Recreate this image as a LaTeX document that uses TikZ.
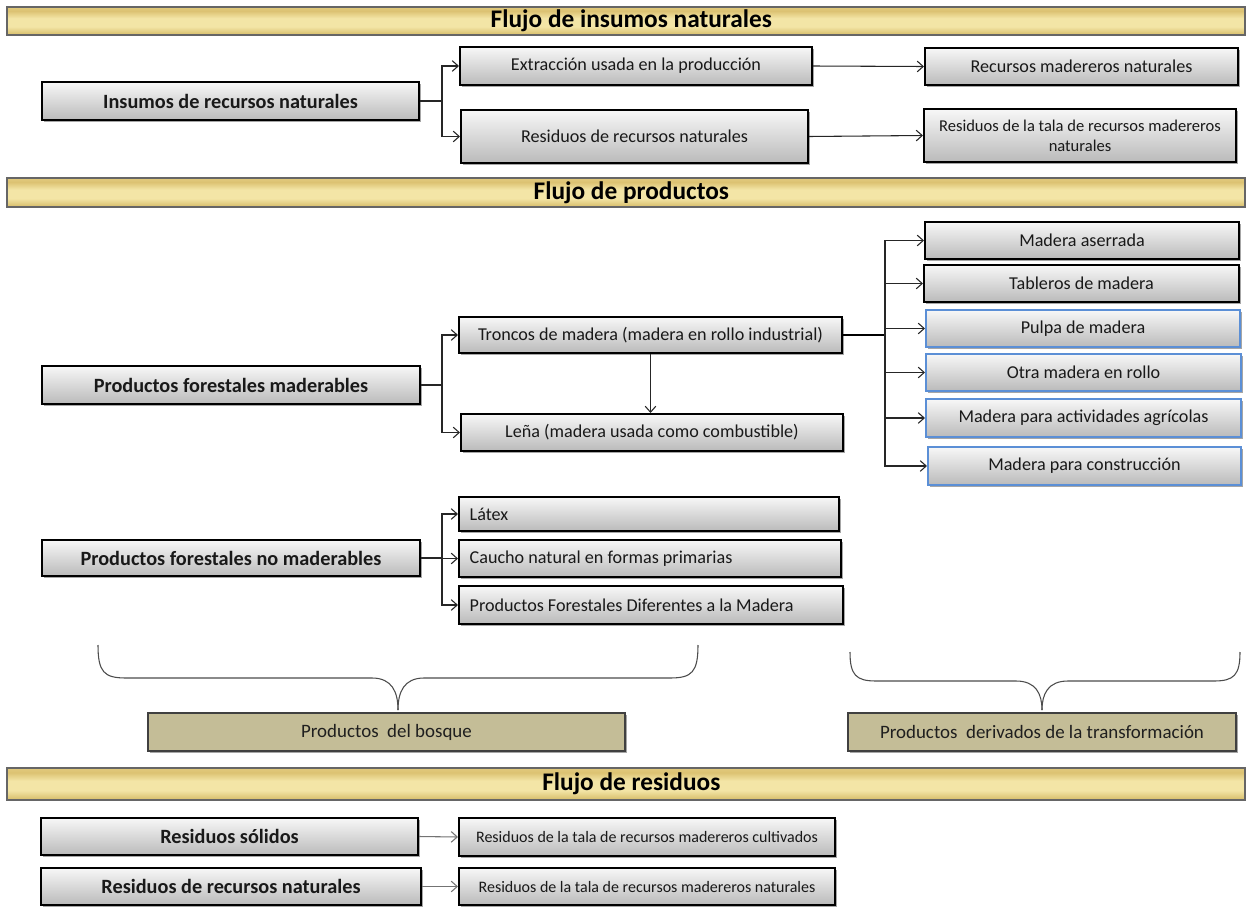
\documentclass[tikz,border=0pt]{standalone}
\usepackage{fontspec}
\setmainfont{Carlito}
\usetikzlibrary{arrows.meta,shadows}
\definecolor{bluebd}{HTML}{5B8FD6}
\definecolor{tanfill}{HTML}{C4BD97}
\definecolor{golda}{HTML}{B8994A}
\definecolor{goldb}{HTML}{E6D288}
\definecolor{goldc}{HTML}{D6BC68}
\definecolor{goldd}{HTML}{F3E5A6}
\definecolor{golde}{HTML}{DCC272}
\pgfdeclareverticalshading{goldbar}{100bp}{color(0bp)=(golda); color(12bp)=(goldb); color(25bp)=(goldc); color(40bp)=(goldd); color(55bp)=(goldd); color(68bp)=(golde); color(82bp)=(goldb); color(92bp)=(goldc); color(100bp)=(golda)}
\newcommand{\mkbox}[7]{%
  \pgfmathsetmacro{\mbw}{(#5-#3)*0.75}%
  \pgfmathsetmacro{\mbh}{(#6-#4)*0.75}%
  \node[#1, minimum width=\mbw pt, minimum height=\mbh pt] (#2) at ({(#3+#5)/2},{(#4+#6)/2}) {#7};}
\newcommand{\mkboxl}[7]{%
  \pgfmathsetmacro{\mbw}{(#5-#3)*0.75}%
  \pgfmathsetmacro{\mbh}{(#6-#4)*0.75}%
  \pgfmathsetmacro{\mtw}{(#5-#3)*0.75-16}%
  \node[#1, minimum width=\mbw pt, minimum height=\mbh pt, text width=\mtw pt, inner xsep=8pt, align=flush left] (#2) at ({(#3+#5)/2},{(#4+#6)/2}) {#7};}
\tikzset{
  shd/.style={drop shadow={shadow xshift=1.8pt, shadow yshift=-1.8pt, opacity=0.35, fill=black}},
  gbox/.style={shd, draw=black, line width=1.5pt, top color=white!97!black, bottom color=black!27,
    inner sep=2pt, align=center, text=black!90, font=\fontsize{13.6}{15}\selectfont},
  bbox/.style={gbox, font=\bfseries\fontsize{15.2}{17}\selectfont},
  sbox/.style={gbox, font=\fontsize{12.4}{15}\selectfont},
  rbox/.style={gbox, font=\fontsize{12}{14}\selectfont},
  bluebox/.style={gbox, draw=bluebd},
  tanbox/.style={shd, draw=black!75, line width=1pt, fill=tanfill, inner sep=2pt, text=black!88,
    font=\fontsize{14.2}{16}\selectfont},
  hdr/.style={draw=black!60, line width=1pt, shading=goldbar, inner sep=1pt,
    drop shadow={shadow xshift=1pt, shadow yshift=-1pt, opacity=0.25, fill=black},
    font=\bfseries\fontsize{19}{21}\selectfont},
  arr/.style={draw=black!85, line width=0.8pt, -{Straight Barb[length=4.5pt,width=8pt]}},
  garr/.style={arr, draw=black!55},
  thk/.style={draw=black, line width=1.5pt},
  brace/.style={draw=black!70, line width=0.8pt}
}
\begin{document}
\begin{tikzpicture}[x=0.75pt,y=-0.75pt]
\fill[white] (0,0) rectangle (1247,907);
\useasboundingbox (0,0) rectangle (1247,907);
% headers
\mkbox{hdr}{h1}{7}{7}{1245}{35}{\hspace*{8pt}Flujo de insumos naturales}
\mkbox{hdr}{h2}{7}{178}{1245}{207}{\hspace*{8pt}Flujo de productos}
\mkbox{hdr}{h3}{7}{768}{1245}{800}{\hspace*{8pt}Flujo de residuos}
% section 1
\mkbox{bbox}{ins}{42}{82}{419}{120}{Insumos de recursos naturales}
\mkbox{gbox}{ext}{460}{47}{812}{85}{Extracción usada en la producción}
\mkbox{gbox}{resn}{461}{110}{808}{163}{Residuos de recursos naturales}
\mkbox{gbox}{recm}{925}{48}{1238}{85}{Recursos madereros naturales}
\mkbox{sbox}{rtala}{924}{109}{1236}{162}{Residuos de la tala de recursos madereros\\naturales}
\draw[arr] (ins.east) -- ++(22,0) |- (ext.west);
\draw[arr] (ins.east) -- ++(22,0) |- (resn.west);
\draw[arr] (ext.east) -- (recm.west);
\draw[arr] (resn.east) -- (rtala.west);
% section 2
\mkbox{bbox}{pfm}{42}{366}{420}{404}{Productos forestales maderables}
\mkbox{gbox}{tro}{459}{317}{842}{353}{Troncos de madera (madera en rollo industrial)}
\mkbox{gbox}{lena}{461}{414}{843}{451}{Leña (madera usada como combustible)}
\mkbox{gbox}{mas}{925}{222}{1239}{259}{Madera aserrada}
\mkbox{gbox}{tab}{924}{265}{1239}{302}{Tableros de madera}
\mkbox{bluebox}{pul}{926}{310}{1240}{347}{Pulpa de madera}
\mkbox{bluebox}{otr}{926}{354}{1241}{391}{Otra madera en rollo}
\mkbox{bluebox}{agr}{926}{399}{1241}{437}{Madera para actividades agrícolas}
\mkbox{bluebox}{con}{928}{447}{1241}{485}{Madera para construcción}
\draw[arr] (pfm.east) -- ++(21,0) |- (tro.west);
\draw[arr] (pfm.east) -- ++(21,0) |- (lena.west);
\draw[arr] (tro.south) -- (tro.south |- lena.north);
\draw[thk] (tro.east) -- ++(42,0) coordinate (jt);
\draw[arr] (jt) |- (mas.west);
\draw[arr] (jt) |- (tab.west);
\draw[arr] (jt) |- (pul.west);
\draw[arr] (jt) |- (otr.west);
\draw[arr] (jt) |- (agr.west);
\draw[arr] (jt) |- (con.west);
\mkbox{bbox}{pnm}{42}{540}{420}{576}{Productos forestales no maderables}
\mkboxl{gbox}{lat}{459}{497}{839}{531}{Látex}
\mkboxl{gbox}{cau}{459}{540}{841}{577}{Caucho natural en formas primarias}
\mkboxl{gbox}{pfd}{459}{586}{843}{624}{Productos Forestales Diferentes a la Madera}
\draw[arr] (pnm.east) -- ++(21,0) |- (lat.west);
\draw[arr] (pnm.east) -- ++(21,0) |- (cau.west);
\draw[arr] (pnm.east) -- ++(21,0) |- (pfd.west);
% braces
\draw[brace] (98,645) .. controls (98,672) and (104,678) .. (126,678) -- (372,678) .. controls (392,678) and (398,692) .. (398,710);
\draw[brace] (698,645) .. controls (698,672) and (692,678) .. (670,678) -- (424,678) .. controls (404,678) and (398,692) .. (398,710);
\draw[brace] (850,652) .. controls (850,675) and (856,681) .. (876,681) -- (1016,681) .. controls (1036,681) and (1042,694) .. (1042,710);
\draw[brace] (1240,652) .. controls (1240,675) and (1234,681) .. (1214,681) -- (1068,681) .. controls (1048,681) and (1042,694) .. (1042,710);
\mkbox{tanbox}{pdb}{148}{713}{625}{751}{Productos\ \ del bosque}
\mkbox{tanbox}{pdt}{848}{713}{1236}{751}{Productos\ \ derivados de la transformación}
% section 3
\mkbox{bbox}{rsol}{41}{818}{418}{855}{Residuos sólidos}
\mkbox{bbox}{rrn}{41}{868}{421}{905}{Residuos de recursos naturales}
\mkbox{rbox}{rtc}{459}{818}{835}{856}{Residuos de la tala de recursos madereros cultivados}
\mkbox{rbox}{rtn}{459}{868}{835}{905}{Residuos de la tala de recursos madereros naturales}
\draw[garr] (rsol.east) -- (rtc.west);
\draw[garr] (rrn.east) -- (rtn.west);
\end{tikzpicture}
\end{document}
